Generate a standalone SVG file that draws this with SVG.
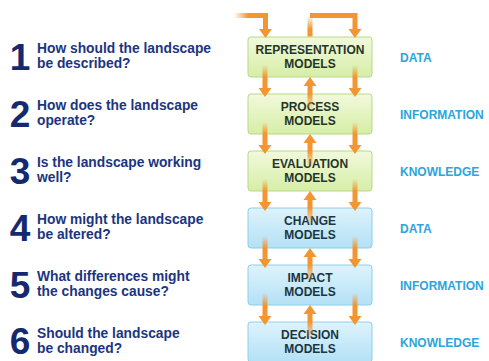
<svg xmlns="http://www.w3.org/2000/svg" width="489" height="361" viewBox="0 0 489 361">
  <style>
    .num { font-family: "Liberation Sans", Arial, sans-serif; font-weight: bold; font-size: 37px; fill: #14296f; text-anchor: middle; }
    .q { font-family: "Liberation Sans", Arial, sans-serif; font-weight: bold; font-size: 13.8px; fill: #1b3580; }
    .lvl { font-family: "Liberation Sans", Arial, sans-serif; font-weight: bold; font-size: 12px; fill: #2ba5dc; }
    .bt { font-family: "Liberation Sans", Arial, sans-serif; font-weight: bold; font-size: 12px; text-anchor: middle; }
    .green rect { fill: url(#gGreen); stroke: #b6d98a; stroke-width: 1; }
    .green text { fill: #26352a; }
    .blue rect { fill: url(#gBlue); stroke: #8ccfec; stroke-width: 1; }
    .blue text { fill: #1c3542; }
    .head { fill: #f39632; }
  </style>
  <defs>
    <linearGradient id="gGreen" x1="0" y1="0" x2="0" y2="1">
      <stop offset="0" stop-color="#f2f9dc"/>
      <stop offset="1" stop-color="#d6eea6"/>
    </linearGradient>
    <linearGradient id="gBlue" x1="0" y1="0" x2="0" y2="1">
      <stop offset="0" stop-color="#def3fc"/>
      <stop offset="1" stop-color="#b3e1f6"/>
    </linearGradient>
    <!-- shaft fading in from above -->
    <linearGradient id="fadeIn" x1="0" y1="0" x2="0" y2="1">
      <stop offset="0" stop-color="#f39632" stop-opacity="0"/>
      <stop offset="0.5" stop-color="#f39632" stop-opacity="1"/>
      <stop offset="1" stop-color="#f39632" stop-opacity="1"/>
    </linearGradient>
    <!-- shaft fading out below -->
    <linearGradient id="fadeOut" x1="0" y1="0" x2="0" y2="1">
      <stop offset="0" stop-color="#f39632" stop-opacity="1"/>
      <stop offset="0.35" stop-color="#f39632" stop-opacity="1"/>
      <stop offset="1" stop-color="#f39632" stop-opacity="0"/>
    </linearGradient>
    <linearGradient id="fadeLeft" x1="0" y1="0" x2="1" y2="0">
      <stop offset="0" stop-color="#f39632" stop-opacity="0"/>
      <stop offset="0.45" stop-color="#f39632" stop-opacity="1"/>
      <stop offset="1" stop-color="#f39632" stop-opacity="1"/>
    </linearGradient>
    <!-- downward arrow, origin at the bottom edge of the upper box -->
    <g id="down">
      <rect x="-2.5" y="-12" width="5" height="24" fill="url(#fadeIn)"/>
      <polygon class="head" points="-6.5,11 6.5,11 0,20"/>
    </g>
    <!-- upward arrow, origin at the bottom edge of the upper box -->
    <g id="up">
      <rect x="-2.5" y="8" width="5" height="26" fill="url(#fadeOut)"/>
      <polygon class="head" points="-6.5,9 6.5,9 0,0"/>
    </g>
  </defs>

  <rect width="489" height="361" fill="#ffffff"/>

  <!-- model boxes -->
  <g id="representation" class="green">
    <rect x="248" y="37" width="124" height="40" rx="3"/>
    <text class="bt" x="310" y="54">REPRESENTATION</text>
    <text class="bt" x="310" y="68">MODELS</text>
  </g>
  <g id="process" class="green">
    <rect x="248" y="94" width="124" height="40" rx="3"/>
    <text class="bt" x="310" y="111">PROCESS</text>
    <text class="bt" x="310" y="125">MODELS</text>
  </g>
  <g id="evaluation" class="green">
    <rect x="248" y="151" width="124" height="40" rx="3"/>
    <text class="bt" x="310" y="168">EVALUATION</text>
    <text class="bt" x="310" y="182">MODELS</text>
  </g>
  <g id="change" class="blue">
    <rect x="248" y="208" width="124" height="40" rx="3"/>
    <text class="bt" x="310" y="225">CHANGE</text>
    <text class="bt" x="310" y="239">MODELS</text>
  </g>
  <g id="impact" class="blue">
    <rect x="248" y="265" width="124" height="40" rx="3"/>
    <text class="bt" x="310" y="282">IMPACT</text>
    <text class="bt" x="310" y="296">MODELS</text>
  </g>
  <g id="decision" class="blue">
    <rect x="248" y="322" width="124" height="40" rx="3"/>
    <text class="bt" x="310" y="339">DECISION</text>
    <text class="bt" x="310" y="353">MODELS</text>
  </g>

  <!-- connectors -->
  <g id="connectors">
    <!-- feed into the first box from the left -->
    <path d="M234,15.5 H265.5 V30" fill="none" stroke="url(#fadeLeft)" stroke-width="5"/>
    <polygon class="head" points="259,29 272,29 265.5,38"/>
    <!-- loop from the first box back onto itself -->
    <rect x="307.5" y="15.5" width="5" height="21" fill="url(#fadeOut)" transform="rotate(180 310 26)"/>
    <path d="M310,15.5 H355 V30" fill="none" stroke="#f39632" stroke-width="5" stroke-linejoin="miter"/>
    <polygon class="head" points="348.5,29 361.5,29 355,38"/>

    <use href="#down" x="265" y="77"/>
    <use href="#up" x="310" y="77"/>
    <use href="#down" x="355" y="77"/>

    <use href="#down" x="265" y="134"/>
    <use href="#up" x="310" y="134"/>
    <use href="#down" x="355" y="134"/>

    <use href="#down" x="265" y="191"/>
    <use href="#up" x="310" y="191"/>
    <use href="#down" x="355" y="191"/>

    <use href="#down" x="265" y="248"/>
    <use href="#up" x="310" y="248"/>
    <use href="#down" x="355" y="248"/>

    <use href="#down" x="265" y="305"/>
    <use href="#up" x="310" y="305"/>
    <use href="#down" x="355" y="305"/>
  </g>

  <!-- questions -->
  <g id="questions">
    <text class="num" x="20" y="70">1</text>
    <text class="q" x="37" y="53">How should the landscape</text>
    <text class="q" x="37" y="68">be described?</text>

    <text class="num" x="20" y="127">2</text>
    <text class="q" x="37" y="110">How does the landscape</text>
    <text class="q" x="37" y="125">operate?</text>

    <text class="num" x="20" y="184">3</text>
    <text class="q" x="37" y="167">Is the landscape working</text>
    <text class="q" x="37" y="182">well?</text>

    <text class="num" x="20" y="241">4</text>
    <text class="q" x="37" y="224">How might the landscape</text>
    <text class="q" x="37" y="239">be altered?</text>

    <text class="num" x="20" y="298">5</text>
    <text class="q" x="37" y="281">What differences might</text>
    <text class="q" x="37" y="296">the changes cause?</text>

    <text class="num" x="20" y="354">6</text>
    <text class="q" x="37" y="338">Should the landscape</text>
    <text class="q" x="37" y="353">be changed?</text>
  </g>

  <!-- levels -->
  <g id="levels">
    <text class="lvl" x="400" y="62">DATA</text>
    <text class="lvl" x="400" y="119">INFORMATION</text>
    <text class="lvl" x="400" y="176">KNOWLEDGE</text>
    <text class="lvl" x="400" y="233">DATA</text>
    <text class="lvl" x="400" y="290">INFORMATION</text>
    <text class="lvl" x="400" y="347">KNOWLEDGE</text>
  </g>
</svg>
